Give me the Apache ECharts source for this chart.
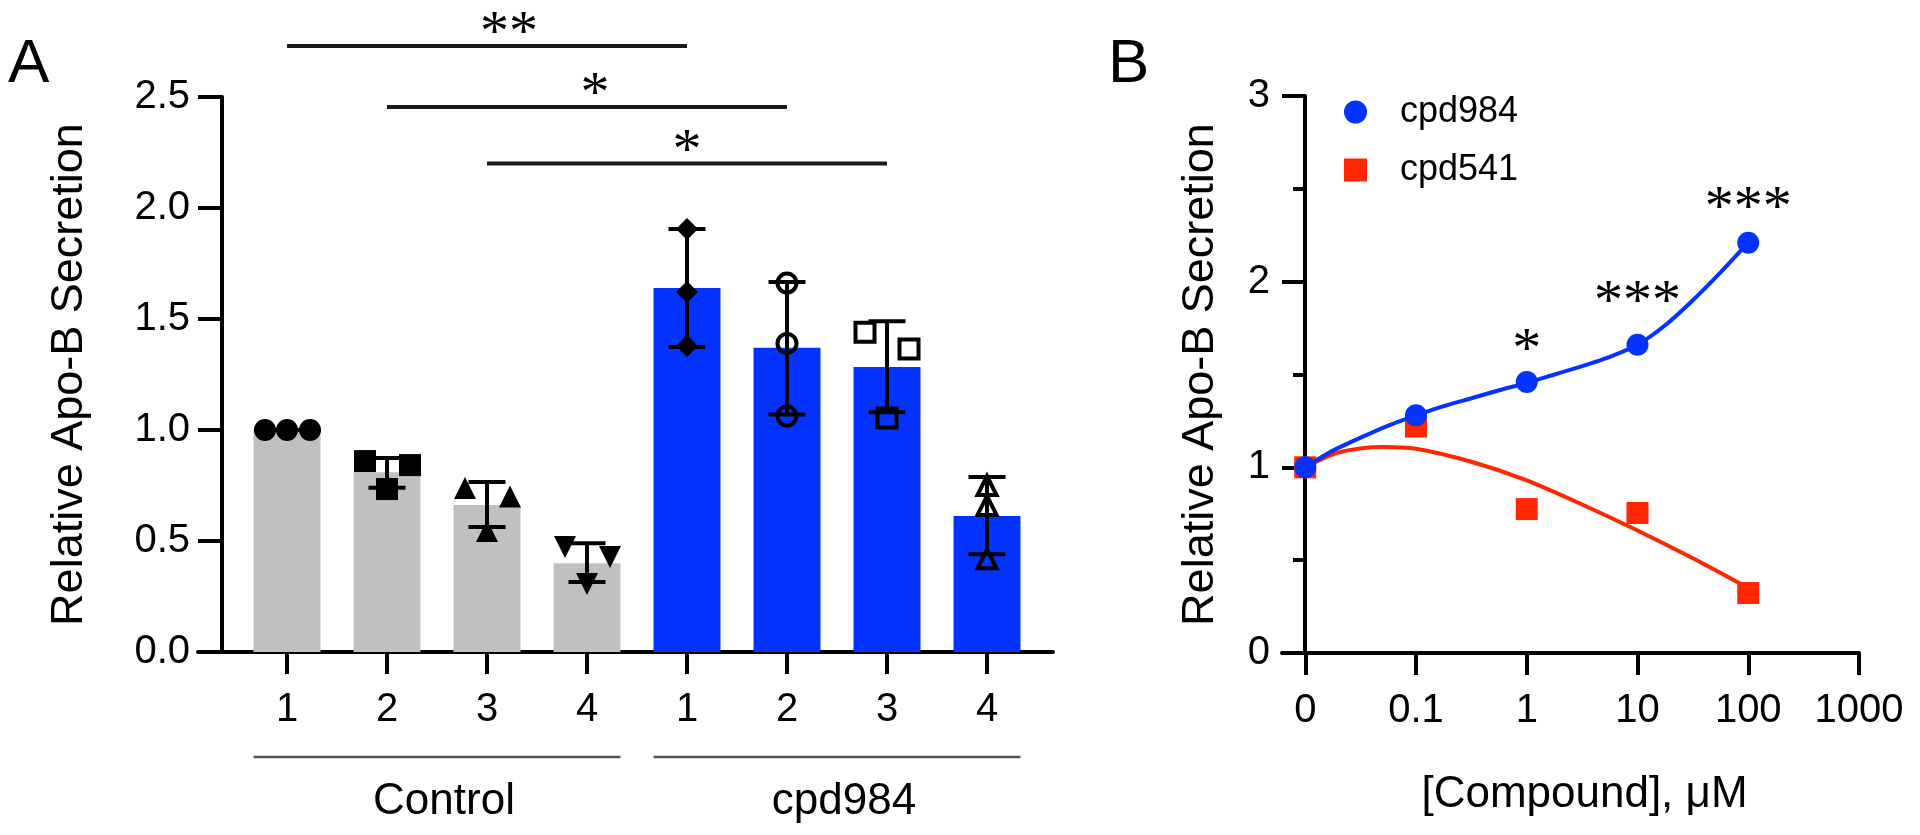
<!DOCTYPE html>
<html><head><meta charset="utf-8">
<script src="https://cdn.jsdelivr.net/npm/echarts@6/dist/echarts.min.js"></script>
<style>html,body{margin:0;padding:0;background:#fff}#c{width:1920px;height:835px}</style>
</head><body><div id="c"></div>
<script>
// ---------------- data ----------------
// Panel A
const tickLabelsA = ['1', '2', '3', '4', '1', '2', '3', '4'];
const groupNames = ['Control', 'cpd984'];
const controlMeans = [1.0, 0.81, 0.662, 0.40];
const cpd984Means = [1.64, 1.37, 1.284, 0.613];
const controlErrLow = [1.0, 0.74, 0.563, 0.315];
const controlErrHigh = [1.0, 0.874, 0.766, 0.49];
const cpd984ErrLow = [1.374, 1.07, 1.08, 0.44];
const cpd984ErrHigh = [1.905, 1.667, 1.49, 0.788];
const controlPoints = [[1.0, 1.0, 1.0], [0.86, 0.734, 0.842], [0.739, 0.545, 0.70], [0.473, 0.306, 0.428]];
const cpd984Points = [[1.905, 1.622, 1.378], [1.662, 1.39, 1.063], [1.44, 1.365, 1.054], [0.75, 0.66, 0.42]];
const sigPairs = [[0, 4], [1, 5], [2, 6]];
const sigLevels = [2.73, 2.455, 2.20];
const sigLabels = ['**', '*', '*'];
const yTicksA = [0, 0.5, 1.0, 1.5, 2.0, 2.5];

// Panel B
const concB = [0, 0.1, 1, 10, 100];
const xTickLabelsB = ['0', '0.1', '1', '10', '100', '1000'];
const yTicksB = [0, 1, 2, 3];
const cpd984B = [1.0, 1.28, 1.46, 1.66, 2.21];
const cpd541B = [1.0, 1.22, 0.775, 0.754, 0.323];
const fitLogX984 = [-2, -1.75, -1.5, -1.25, -1, -0.75, -0.5, -0.25, 0, 0.25, 0.5, 0.75, 1, 1.25, 1.5, 1.75, 2];
const fit984 = [1.0, 1.09, 1.16, 1.225, 1.28, 1.33, 1.372, 1.415, 1.455, 1.50, 1.545, 1.595, 1.66, 1.765, 1.90, 2.05, 2.21];
const fitLogX541 = [-2, -1.7, -1.3, -1, -0.5, 0, 0.5, 1, 1.5, 2];
const fit541 = [1.0, 1.08, 1.11, 1.10, 1.03, 0.93, 0.80, 0.66, 0.51, 0.35];
const sigConcB = [1, 10, 100];
const sigLevelsB = [1.685, 1.944, 2.45];
const sigLabelsB = ['*', '***', '***'];

// ---------------- layout / style ----------------
const FONT = '"Liberation Sans", Arial, sans-serif';
const STAR_FONT = '"Liberation Serif", "Times New Roman", serif';
const GRAY = '#c0c0c0', BLUE = '#0433ff', RED = '#ff2600';
const jitterCtrl = [[-0.22, 0, 0.23], [-0.22, 0, 0.23], [-0.22, 0, 0.23], [-0.22, 0, 0.23]];
const jitterCpd = [[0, 0, 0], [0, 0, 0], [-0.22, 0.22, 0], [0, 0, 0]];
const sigStarShift = [22, 8, 0];   // px
const ctrlSymbols = [
  {symbol: 'circle', rotate: 0}, {symbol: 'rect', rotate: 0},
  {symbol: 'triangle', rotate: 0}, {symbol: 'triangle', rotate: 180}];
const cpdSymbols = [
  {symbol: 'diamond', open: false}, {symbol: 'circle', open: true},
  {symbol: 'rect', open: true}, {symbol: 'triangle', open: true}];
const BAR_W = 67;
const logPos = c => (c === 0 ? -2 : Math.log10(c));

// ---------------- build series ----------------
const barData = [];
const errData = [];
controlMeans.forEach((m, i) => {
  barData.push({value: [i, m], itemStyle: {color: GRAY}});
  errData.push([i, controlErrLow[i], controlErrHigh[i]]);
});
cpd984Means.forEach((m, i) => {
  barData.push({value: [4 + i, m], itemStyle: {color: BLUE}});
  errData.push([4 + i, cpd984ErrLow[i], cpd984ErrHigh[i]]);
});

const series = [];
series.push({
  type: 'bar', xAxisIndex: 0, yAxisIndex: 0, data: barData, barWidth: BAR_W, z: 1,
  silent: true
});
controlPoints.forEach((pts, i) => {
  series.push({
    type: 'scatter', xAxisIndex: 0, yAxisIndex: 0, z: 3,
    symbol: ctrlSymbols[i].symbol, symbolRotate: ctrlSymbols[i].rotate, symbolSize: 22,
    itemStyle: {color: '#000', opacity: 1},
    data: pts.map((v, k) => [i + jitterCtrl[i][k], v])
  });
});
cpd984Points.forEach((pts, i) => {
  const s = cpdSymbols[i];
  series.push({
    type: 'scatter', xAxisIndex: 0, yAxisIndex: 0, z: 3,
    symbol: s.symbol, symbolSize: s.open ? 19 : 22,
    itemStyle: s.open ? {color: 'rgba(0,0,0,0)', borderColor: '#000', borderWidth: 4, opacity: 1}
                      : {color: '#000', opacity: 1},
    data: pts.map((v, k) => [4 + i + jitterCpd[i][k], v])
  });
});
// error bars
series.push({
  type: 'custom', xAxisIndex: 0, yAxisIndex: 0, z: 4, clip: false, silent: true,
  data: errData,
  renderItem: (params, api) => {
    const x = api.value(0);
    const pl = api.coord([x, api.value(1)]);
    const ph = api.coord([x, api.value(2)]);
    const h = 18.5;
    const st = {stroke: '#000', lineWidth: 4};
    return {type: 'group', children: [
      {type: 'line', shape: {x1: pl[0], y1: pl[1], x2: ph[0], y2: ph[1]}, style: st},
      {type: 'line', shape: {x1: pl[0] - h, y1: pl[1], x2: pl[0] + h, y2: pl[1]}, style: st},
      {type: 'line', shape: {x1: ph[0] - h, y1: ph[1], x2: ph[0] + h, y2: ph[1]}, style: st}
    ]};
  }
});
// significance brackets (panel A)
series.push({
  type: 'custom', xAxisIndex: 0, yAxisIndex: 0, z: 5, clip: false, silent: true,
  data: sigLevels.map((lv, i) => [sigPairs[i][0], lv, sigPairs[i][1]]),
  renderItem: (params, api) => {
    const i = params.dataIndex;
    const pa = api.coord([api.value(0), api.value(1)]);
    const pb = api.coord([api.value(2), api.value(1)]);
    const cx = (pa[0] + pb[0]) / 2 + sigStarShift[i];
    return {type: 'group', children: [
      {type: 'line', shape: {x1: pa[0], y1: pa[1], x2: pb[0], y2: pb[1]}, style: {stroke: '#1a1a1a', lineWidth: 4}},
      {type: 'text', x: cx, y: pa[1] - 11, style: {text: sigLabels[i], fill: '#000', font: '58px ' + STAR_FONT, align: 'center', verticalAlign: 'middle'}}
    ]};
  }
});
// group lines + labels below axis (panel A)
series.push({
  type: 'custom', xAxisIndex: 0, yAxisIndex: 0, z: 5, clip: false, silent: true,
  data: [[0, 0, 3], [4, 0, 7]],
  renderItem: (params, api) => {
    const i = params.dataIndex;
    const p0 = api.coord([api.value(0), 0]);
    const p1 = api.coord([api.value(2), 0]);
    const x1 = p0[0] - BAR_W / 2, x2 = p1[0] + BAR_W / 2;
    return {type: 'group', children: [
      {type: 'line', shape: {x1: x1, y1: p0[1] + 105, x2: x2, y2: p0[1] + 105}, style: {stroke: '#555', lineWidth: 2.5}},
      {type: 'text', x: (x1 + x2) / 2 + 7, y: p0[1] + 150, style: {text: groupNames[i], fill: '#000', font: '44px ' + FONT, align: 'center', verticalAlign: 'middle'}}
    ]};
  }
});

// Panel B
series.push({
  type: 'line', name: 'cpd541 fit', xAxisIndex: 1, yAxisIndex: 1, z: 2, smooth: 0.3,
  showSymbol: false, silent: true, lineStyle: {color: RED, width: 4},
  data: fitLogX541.map((x, i) => [x, fit541[i]])
});
series.push({
  type: 'scatter', name: 'cpd541', xAxisIndex: 1, yAxisIndex: 1, z: 3, symbol: 'rect', symbolSize: 22,
  itemStyle: {color: RED, opacity: 1},
  data: concB.map((c, i) => [logPos(c), cpd541B[i]])
});
series.push({
  type: 'line', name: 'cpd984 fit', xAxisIndex: 1, yAxisIndex: 1, z: 4, smooth: 0.25,
  showSymbol: false, silent: true, lineStyle: {color: BLUE, width: 4},
  data: fitLogX984.map((x, i) => [x, fit984[i]])
});
series.push({
  type: 'scatter', name: 'cpd984', xAxisIndex: 1, yAxisIndex: 1, z: 5, symbol: 'circle', symbolSize: 22,
  itemStyle: {color: BLUE, opacity: 1},
  data: concB.map((c, i) => [logPos(c), cpd984B[i]])
});
series.push({
  type: 'custom', xAxisIndex: 1, yAxisIndex: 1, z: 6, clip: false, silent: true,
  data: sigConcB.map((c, i) => [logPos(c), sigLevelsB[i]]),
  renderItem: (params, api) => {
    const p = api.coord([api.value(0), api.value(1)]);
    return {type: 'text', x: p[0], y: p[1] + 12, style: {text: sigLabelsB[params.dataIndex], fill: '#000', font: '58px ' + STAR_FONT, align: 'center', verticalAlign: 'middle'}};
  }
});

const axisLineStyle = {color: '#000', width: 4};
const txt = (size) => ({fontSize: size, color: '#000', fontFamily: FONT});

const option = {
  animation: false,
  backgroundColor: '#fff',
  title: [
    {text: 'A', left: 8, top: 34, padding: 0, textStyle: {fontSize: 62, fontWeight: 'normal', color: '#000', fontFamily: FONT}},
    {text: 'B', left: 1108, top: 34, padding: 0, textStyle: {fontSize: 62, fontWeight: 'normal', color: '#000', fontFamily: FONT}}
  ],
  legend: {
    left: 1339, top: 89, orient: 'vertical', itemWidth: 23, itemHeight: 23, itemGap: 22,
    textStyle: Object.assign(txt(36), {padding: [0, 0, 0, 28], lineHeight: 36}),
    selectedMode: false,
    data: [{name: 'cpd984', icon: 'circle'}, {name: 'cpd541', icon: 'rect'}]
  },
  grid: [
    {left: 198, top: 97, width: 855, height: 555, containLabel: false, outerBoundsMode: 'none'},
    {left: 1282, top: 96, width: 577, height: 557, containLabel: false, outerBoundsMode: 'none'}
  ],
  xAxis: [
    {
      gridIndex: 0, type: 'value', min: -0.89, max: 7.66,
      axisLine: {show: true, onZero: false, lineStyle: axisLineStyle},
      axisTick: {show: true, customValues: tickLabelsA.map((_, i) => i), length: 22, lineStyle: axisLineStyle},
      axisLabel: Object.assign(txt(40), {customValues: tickLabelsA.map((_, i) => i), margin: 38,
        formatter: v => tickLabelsA[Math.round(v)]}),
      splitLine: {show: false}
    },
    {
      gridIndex: 1, type: 'value', min: -2.21, max: 3,
      axisLine: {show: true, onZero: false, lineStyle: axisLineStyle},
      axisTick: {show: true, customValues: xTickLabelsB.map(l => logPos(parseFloat(l))), length: 22, lineStyle: axisLineStyle},
      axisLabel: Object.assign(txt(40), {customValues: xTickLabelsB.map(l => logPos(parseFloat(l))), margin: 38,
        formatter: v => xTickLabelsB[Math.round(v) + 2]}),
      splitLine: {show: false},
      name: '[Compound], \u03bcM', nameLocation: 'middle', nameGap: 120,
      nameTextStyle: Object.assign(txt(44), {padding: [0, 0, 0, 28]})
    }
  ],
  yAxis: [
    {
      gridIndex: 0, type: 'value', min: yTicksA[0], max: yTicksA[yTicksA.length - 1], interval: 0.5, offset: -24,
      axisLine: {show: true, onZero: false, lineStyle: axisLineStyle},
      axisTick: {show: true, length: 24, lineStyle: axisLineStyle},
      axisLabel: Object.assign(txt(40), {margin: 32, formatter: v => v.toFixed(1)}),
      splitLine: {show: false},
      name: 'Relative Apo-B Secretion', nameLocation: 'middle', nameGap: 130,
      nameTextStyle: txt(45)
    },
    {
      gridIndex: 1, type: 'value', min: yTicksB[0], max: yTicksB[yTicksB.length - 1], interval: 1, offset: -23,
      axisLine: {show: true, onZero: false, lineStyle: axisLineStyle},
      axisTick: {show: true, length: 23, lineStyle: axisLineStyle},
      minorTick: {show: true, splitNumber: 2, length: 12, lineStyle: axisLineStyle},
      minorSplitLine: {show: false},
      axisLabel: Object.assign(txt(40), {margin: 35}),
      splitLine: {show: false},
      name: 'Relative Apo-B Secretion', nameLocation: 'middle', nameGap: 82,
      nameTextStyle: txt(45)
    }
  ],
  series: series
};

const chart = echarts.init(document.getElementById('c'), null, {renderer: 'canvas'});
chart.setOption(option);
</script>
</body></html>
